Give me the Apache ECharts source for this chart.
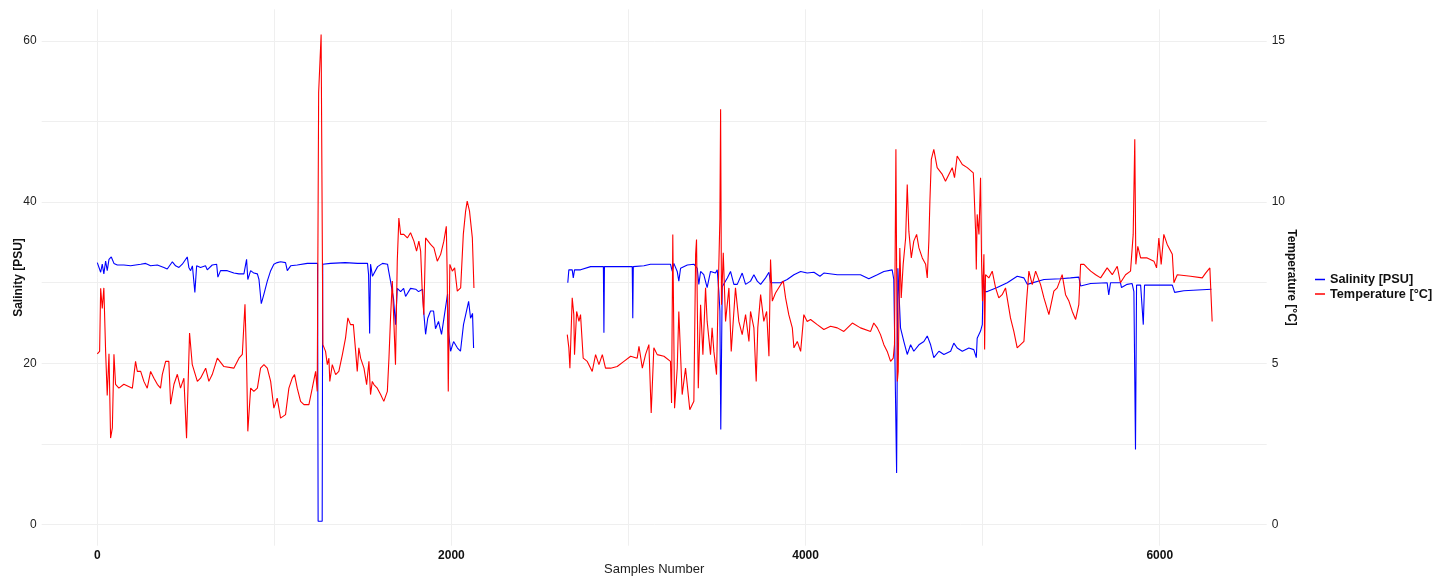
<!DOCTYPE html>
<html>
<head>
<meta charset="utf-8">
<script src="https://cdn.jsdelivr.net/npm/echarts@6/dist/echarts.min.js"></script>
<style>
html,body{margin:0;padding:0;background:#fff;}
#chart{width:1450px;height:578px;}
</style>
</head>
<body>
<div id="chart"></div>
<script>
// ---- Data: [sample number, value]; null marks the data gap ----
const salinityData = [
[0,32.5],[19,31.3],[28,32.3],[37,31.1],[47,32.7],[56,31.5],[66,32.9],[79,33.2],[94,32.4],[113,32.2],
[150,32.2],[188,32.1],[245,32.3],[273,32.4],[301,32.1],[339,32.2],[376,31.9],[395,31.7],[424,32.6],[442,32.1],
[461,31.9],[480,32.3],[508,33.2],[517,31.9],[527,31.5],[537,32.1],[551,28.8],[561,32.1],[583,31.9],[611,32.1],
[621,31.6],[649,32.2],[674,32.3],[681,30.7],[696,31.5],[734,31.5],[771,31.2],[800,31.1],[828,31.1],[843,32.9],
[850,30.4],[866,31.5],[884,31.2],[904,31.1],[913,30.4],[926,27.4],[941,28.6],[960,30.2],[979,31.5],[997,32.3],
[1016,32.5],[1035,32.6],[1063,32.5],[1073,31.5],[1092,32.1],[1129,32.2],[1186,32.4],[1205,32.4],[1244,32.4],
[1247,0.4],[1270,0.4],[1273,32.3],[1317,32.4],[1400,32.5],[1470,32.4],[1526,32.4],[1532,31.0],[1538,23.7],
[1543,32.3],[1554,30.8],[1583,32.0],[1611,32.4],[1639,32.3],[1645,31.5],[1656,30.2],[1666,28.9],[1673,28.0],
[1684,24.8],[1694,29.3],[1713,28.9],[1730,29.3],[1741,28.3],[1769,29.3],[1798,29.2],[1814,28.9],[1837,29.2],
[1843,26.5],[1854,23.6],[1866,25.6],[1882,26.5],[1899,26.5],[1910,24.3],[1927,25.2],[1944,23.6],[1955,25.2],
[1978,28.6],[1983,24.0],[1995,21.5],[2012,22.7],[2034,21.9],[2051,21.5],[2068,24.8],[2097,27.7],[2108,25.6],
[2119,26.2],[2125,21.9],
[2400,null],
[2657,30.0],[2663,31.6],[2682,31.6],[2688,30.6],[2695,31.6],[2729,31.6],[2786,32.0],[2858,32.0],[2861,23.8],
[2864,32.0],[2917,32.0],[3021,32.0],[3024,25.6],[3027,32.0],[3087,32.1],[3124,32.3],[3181,32.3],[3237,32.3],
[3247,31.4],[3256,32.4],[3275,31.4],[3284,30.2],[3294,31.8],[3332,32.2],[3369,32.3],[3388,31.8],[3397,29.8],
[3407,31.4],[3425,31.0],[3444,29.4],[3463,31.4],[3491,31.2],[3501,31.6],[3510,28.9],[3516,26.5],[3521,11.8],
[3529,29.5],[3538,29.4],[3558,30.6],[3576,31.4],[3595,29.8],[3614,29.8],[3642,31.2],[3661,29.8],[3689,30.2],
[3708,31.0],[3727,30.2],[3746,29.8],[3774,30.6],[3793,31.3],[3802,30.0],[3821,30.0],[3859,30.0],[3896,30.4],
[3934,31.0],[3972,31.4],[4009,31.2],[4047,31.3],[4081,30.8],[4103,31.2],[4179,31.0],[4254,31.0],[4310,31.0],
[4357,30.5],[4405,31.0],[4442,31.4],[4489,31.6],[4498,30.4],[4508,30.4],[4514,6.4],[4521,31.8],[4527,28.9],
[4536,24.4],[4555,22.7],[4574,21.1],[4593,22.3],[4611,21.5],[4640,22.3],[4668,22.7],[4687,23.4],[4706,22.3],
[4724,20.7],[4753,21.5],[4781,21.1],[4819,21.5],[4837,22.5],[4856,21.9],[4885,21.5],[4922,21.9],[4950,21.7],
[4964,20.7],[4969,23.1],[4988,24.0],[4998,24.8],[5003,31.0],[5011,28.9],[5026,28.9],[5082,29.4],[5139,30.0],
[5195,30.8],[5233,30.6],[5252,29.8],[5346,30.4],[5440,30.5],[5496,30.6],[5543,30.7],[5553,29.6],[5610,29.9],
[5703,30.0],[5712,28.5],[5722,30.0],[5778,30.0],[5784,29.4],[5816,29.8],[5844,29.9],[5854,28.9],[5863,9.3],
[5869,29.7],[5892,29.7],[5907,24.8],[5914,29.7],[5986,29.7],[6071,29.7],[6084,28.8],[6136,29.0],[6292,29.2]
];

const temperatureData = [
[0,5.29],[9,5.3],[13,5.37],[19,7.33],[28,6.7],[37,7.34],[47,5.37],[56,4.0],[66,5.3],[75,2.68],
[85,3.0],[94,5.28],[103,4.35],[122,4.23],[150,4.35],[198,4.23],[216,5.06],[226,4.75],[245,4.75],[263,4.44],
[282,4.23],[301,4.75],[320,4.54],[339,4.35],[357,4.23],[367,4.65],[386,5.06],[404,5.06],[414,3.73],[433,4.35],
[452,4.66],[470,4.23],[489,4.54],[504,2.68],[521,5.94],[536,4.97],[565,4.44],[583,4.54],[612,4.85],[630,4.44],
[649,4.65],[678,5.16],[715,4.9],[771,4.85],[800,5.16],[819,5.28],[834,6.83],[843,5.06],[850,2.89],[866,4.23],
[884,4.13],[904,4.23],[922,4.85],[941,4.96],[960,4.85],[979,4.44],[997,3.61],[1016,3.92],[1035,3.3],[1063,3.41],
[1082,4.23],[1101,4.54],[1114,4.65],[1129,4.23],[1148,3.82],[1167,3.72],[1195,3.72],[1214,4.23],[1233,4.75],
[1242,4.13],[1250,13.4],[1264,15.2],[1271,15.2],[1274,5.58],[1289,5.37],[1299,4.96],[1308,5.16],[1313,4.44],
[1327,4.96],[1346,4.65],[1364,4.75],[1384,5.27],[1402,5.79],[1415,6.41],[1430,6.2],[1446,6.2],[1459,5.37],
[1468,4.75],[1477,5.48],[1487,5.16],[1506,4.85],[1521,4.34],[1534,5.06],[1543,4.03],[1553,4.44],[1562,4.34],
[1581,4.23],[1600,4.03],[1618,3.82],[1638,4.13],[1647,5.16],[1656,6.41],[1666,7.55],[1675,7.6],[1684,4.96],
[1694,8.17],[1703,9.51],[1713,9.0],[1731,9.0],[1751,8.89],[1769,9.05],[1788,8.79],[1803,8.48],[1816,8.79],
[1826,8.48],[1835,7.24],[1844,6.51],[1854,8.89],[1882,8.69],[1901,8.58],[1920,8.17],[1939,8.38],[1957,8.79],
[1971,9.25],[1976,7.75],[1982,4.13],[1991,8.07],[2005,7.86],[2018,7.96],[2033,7.24],[2052,7.34],[2067,9.0],
[2080,9.72],[2089,10.03],[2102,9.72],[2118,8.89],[2127,7.34],
[2400,null],
[2654,5.89],[2663,5.48],[2669,4.85],[2682,7.03],[2691,6.51],[2695,5.27],[2707,6.61],[2720,6.3],[2729,6.51],
[2744,5.16],[2767,5.06],[2795,4.75],[2814,5.27],[2833,4.96],[2852,5.27],[2870,4.85],[2899,4.85],[2936,4.9],
[2974,5.06],[3012,5.22],[3049,5.16],[3059,5.53],[3078,4.85],[3096,5.27],[3115,5.58],[3128,3.46],[3143,5.48],
[3162,5.27],[3200,5.22],[3237,5.06],[3243,3.77],[3250,9.0],[3260,3.61],[3275,4.85],[3284,6.61],[3303,4.03],
[3322,4.85],[3346,3.56],[3369,3.82],[3379,8.38],[3384,8.84],[3394,4.23],[3407,6.82],[3420,5.27],[3435,7.34],
[3444,6.3],[3463,5.27],[3472,6.1],[3482,5.37],[3497,4.65],[3507,7.34],[3516,9.5],[3520,12.88],[3525,6.82],
[3535,8.43],[3548,6.3],[3567,7.34],[3580,5.37],[3595,6.61],[3604,7.34],[3623,6.3],[3642,5.89],[3661,6.51],
[3680,5.68],[3689,6.61],[3708,6.1],[3721,4.44],[3730,6.1],[3746,7.13],[3764,6.3],[3780,6.61],[3793,5.22],
[3802,8.22],[3812,6.93],[3830,7.18],[3859,7.44],[3874,7.55],[3887,7.03],[3905,6.51],[3925,6.1],[3934,5.48],
[3953,5.68],[3972,5.37],[3990,6.51],[4009,6.3],[4028,6.36],[4066,6.2],[4103,6.05],[4141,6.15],[4179,6.1],
[4216,5.99],[4264,6.25],[4310,6.1],[4367,5.99],[4385,6.25],[4405,6.1],[4423,5.89],[4442,5.58],[4461,5.37],
[4480,5.06],[4495,5.16],[4502,5.58],[4510,11.64],[4518,4.44],[4523,4.75],[4532,8.58],[4540,7.03],[4551,8.07],
[4565,8.89],[4574,10.55],[4583,9.1],[4597,8.27],[4611,8.79],[4627,9.0],[4640,8.58],[4659,8.27],[4678,8.07],
[4687,7.65],[4696,8.79],[4702,10.03],[4710,11.33],[4724,11.64],[4743,11.07],[4772,10.86],[4790,10.65],[4809,10.86],
[4828,11.07],[4841,10.76],[4856,11.43],[4885,11.17],[4913,11.07],[4947,10.91],[4950,10.55],[4960,9.1],[4964,7.91],
[4969,9.62],[4979,9.0],[4988,10.76],[4994,8.07],[4999,6.93],[5007,8.38],[5011,5.43],[5016,7.75],[5035,7.65],
[5054,7.86],[5073,7.34],[5091,7.03],[5110,7.13],[5129,7.34],[5157,6.41],[5176,5.99],[5195,5.48],[5214,5.58],
[5233,5.68],[5248,6.93],[5261,7.86],[5280,7.44],[5299,7.86],[5327,7.44],[5346,7.03],[5374,6.51],[5402,7.24],
[5421,7.34],[5449,7.75],[5468,7.13],[5487,6.93],[5506,6.61],[5525,6.36],[5543,6.82],[5553,8.07],[5572,8.07],
[5591,7.96],[5610,7.86],[5638,7.75],[5666,7.65],[5703,7.96],[5732,7.75],[5760,8.01],[5778,7.5],[5807,7.75],
[5835,7.86],[5850,9.0],[5859,11.95],[5865,8.07],[5876,8.63],[5892,8.27],[5929,8.27],[5967,8.17],[5982,7.96],
[5995,8.89],[6008,8.07],[6023,9.0],[6042,8.69],[6071,8.38],[6080,7.5],[6099,7.75],[6174,7.7],[6240,7.65],
[6259,7.8],[6283,7.96],[6292,7.96],[6296,6.3]
];

const xLabelTicks = [0, 2000, 4000, 6000];
const xGridTicks = [0, 1000, 2000, 3000, 4000, 5000, 6000];
const salinityLabelTicks = [0, 20, 40, 60];
const salinityGridTicks = [0, 10, 20, 30, 40, 50, 60];
const temperatureLabelTicks = [0, 5, 10, 15];

const FONT = 'Liberation Sans, Arial, sans-serif';
const chart = echarts.init(document.getElementById('chart'), null, {renderer: 'canvas'});

chart.setOption({
  animation: false,
  backgroundColor: '#ffffff',
  textStyle: {fontFamily: FONT},
  grid: {left: 41.7, right: 183.3, top: 9.3, bottom: 32.3, containLabel: false, outerBoundsMode: 'none'},
  legend: {
    orient: 'vertical',
    left: 1310, top: 268,
    icon: 'rect',
    itemWidth: 10, itemHeight: 1.5, itemGap: 1.5,
    textStyle: {fontFamily: FONT, fontSize: 12.7, fontWeight: 'bold', color: '#111'},
    data: ['Salinity [PSU]', 'Temperature [°C]']
  },
  xAxis: {
    type: 'value',
    min: -314, max: 6604,
    name: 'Samples Number',
    nameLocation: 'middle', nameGap: 17, nameMoveOverlap: false,
    nameTextStyle: {fontFamily: FONT, fontSize: 13, color: '#222'},
    axisLine: {show: false},
    axisTick: {show: false, customValues: xGridTicks},
    axisLabel: {customValues: xLabelTicks, formatter: v => String(v), fontFamily: FONT, fontSize: 12, fontWeight: 'bold', color: '#111', margin: 4},
    splitLine: {show: true, lineStyle: {color: '#efefef', width: 1}}
  },
  yAxis: [{
    type: 'value',
    min: -2.63, max: 63.93,
    name: 'Salinity [PSU]',
    nameLocation: 'middle', nameGap: 17.5, nameMoveOverlap: false,
    nameTextStyle: {fontFamily: FONT, fontSize: 12, fontWeight: 'bold', color: '#111'},
    axisLine: {show: false},
    axisTick: {show: false, customValues: salinityGridTicks},
    axisLabel: {customValues: salinityLabelTicks, formatter: v => String(v), fontFamily: FONT, fontSize: 12, color: '#222', margin: 5},
    splitLine: {show: true, lineStyle: {color: '#efefef', width: 1}}
  }, {
    type: 'value',
    position: 'right',
    min: -2.63 / 4, max: 63.93 / 4,
    name: 'Temperature [°C]',
    nameLocation: 'middle', nameGap: 18.5, nameRotate: -90, nameMoveOverlap: false,
    nameTextStyle: {fontFamily: FONT, fontSize: 12, fontWeight: 'bold', color: '#111'},
    axisLine: {show: false},
    axisTick: {show: false, customValues: temperatureLabelTicks},
    axisLabel: {customValues: temperatureLabelTicks, formatter: v => String(v), fontFamily: FONT, fontSize: 12, color: '#222', margin: 5},
    splitLine: {show: false}
  }],
  series: [{
    name: 'Salinity [PSU]',
    type: 'line',
    yAxisIndex: 0,
    data: salinityData,
    showSymbol: false,
    connectNulls: false,
    lineStyle: {color: '#0000ff', width: 1.1},
    itemStyle: {color: '#0000ff'},
    z: 2
  }, {
    name: 'Temperature [°C]',
    type: 'line',
    yAxisIndex: 1,
    data: temperatureData,
    showSymbol: false,
    connectNulls: false,
    lineStyle: {color: '#ff0000', width: 1.1},
    itemStyle: {color: '#ff0000'},
    z: 3
  }]
});
</script>
</body>
</html>
